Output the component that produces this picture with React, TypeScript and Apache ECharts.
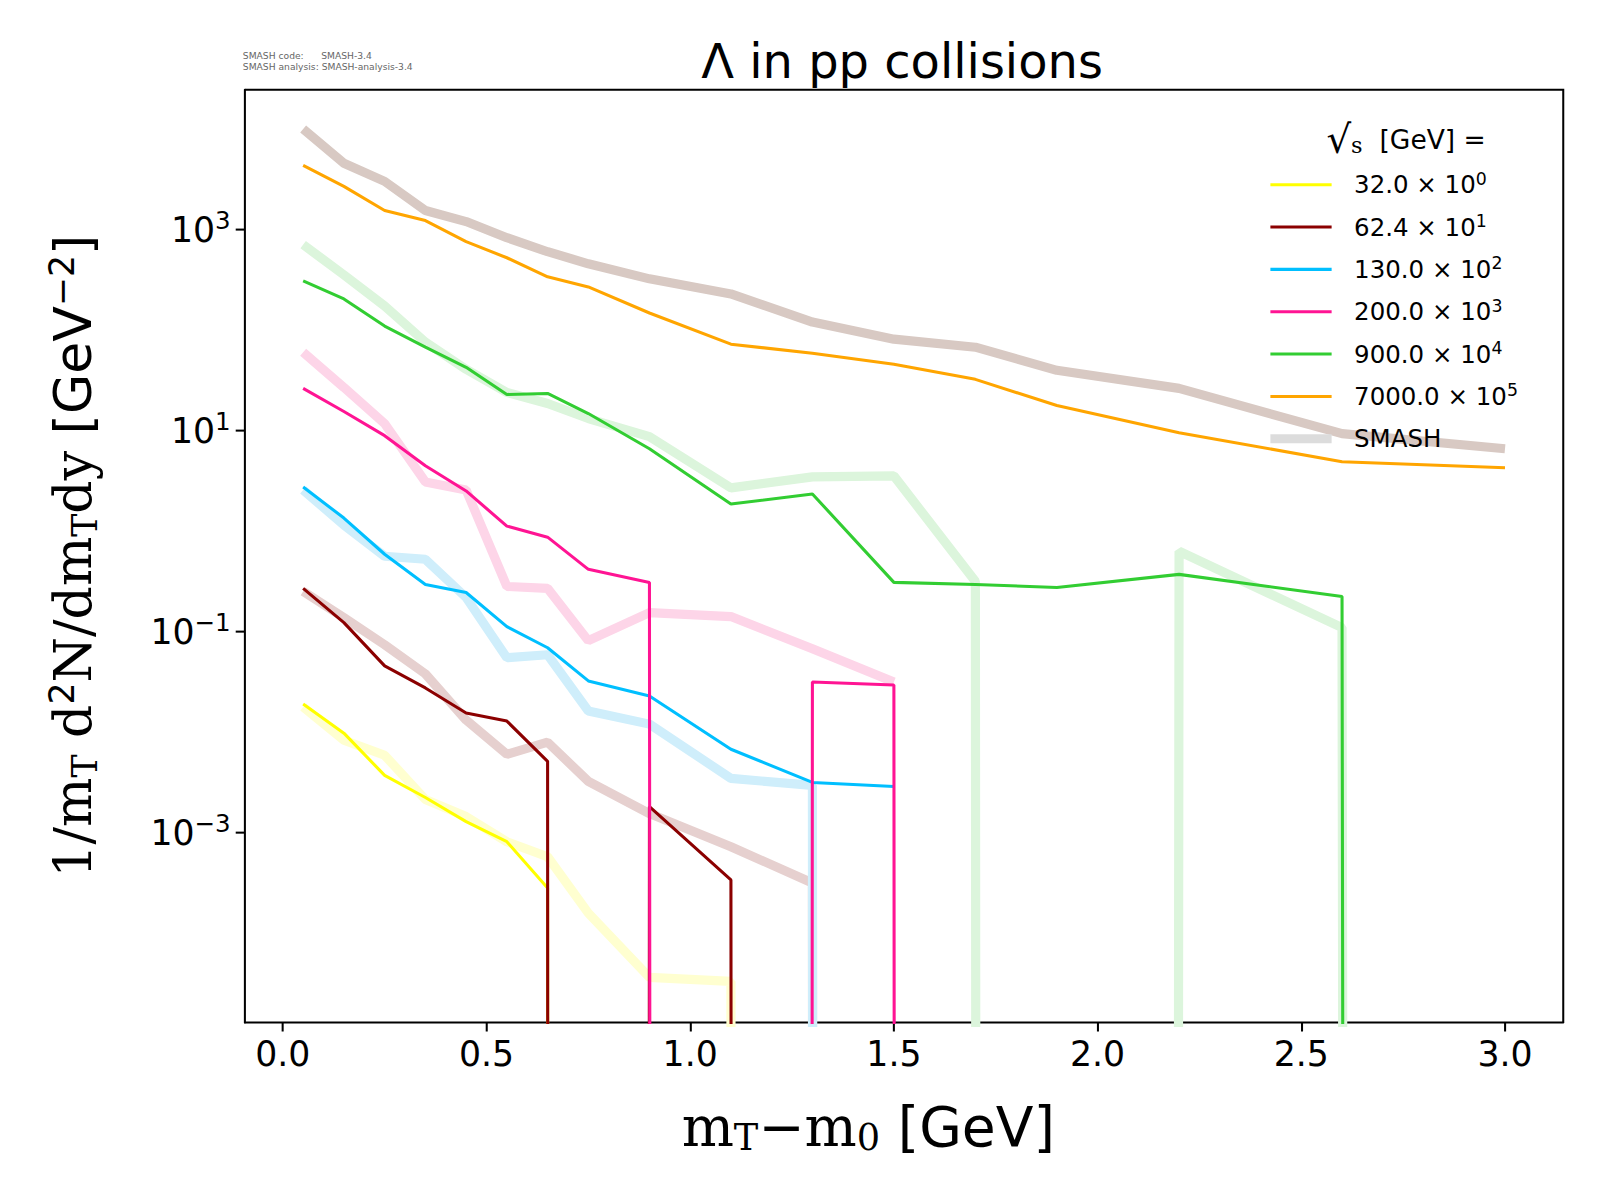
import React, { useEffect, useRef } from "react";
import * as echarts from "echarts";

const xs = [0.05, 0.15, 0.25, 0.35, 0.45, 0.55, 0.65, 0.75, 0.9, 1.1, 1.3, 1.5, 1.7, 1.9, 2.2, 2.6, 3.0];
const Z = -1000; // zero yield (log clipped)
// log10 of yields
const exp32 = [-1.72, -2.01, -2.43, -2.65, -2.89, -3.09, -3.55, Z];
const smash32 = [-1.75, -2.08, -2.23, -2.67, -2.84, -3.09, -3.24, -3.8, -4.44, -4.48, Z];
const exp62 = [-0.57, -0.91, -1.34, -1.56, -1.81, -1.89, -2.29, Z, -2.74, -3.47, Z];
const smash62 = [-0.6, -0.86, -1.13, -1.42, -1.88, -2.22, -2.1, -2.49, -2.81, -3.14, -3.5, Z];
const exp130 = [0.44, 0.13, -0.23, -0.53, -0.61, -0.95, -1.16, -1.49, -1.64, -2.17, -2.5, -2.54];
const smash130 = [0.41, 0.06, -0.25, -0.28, -0.66, -1.26, -1.23, -1.79, -1.92, -2.46, -2.53, Z];
const exp200 = [1.42, 1.19, 0.95, 0.65, 0.4, 0.05, -0.06, -0.38, -0.51, Z, -1.5, -1.53, Z];
const smash200 = [1.78, 1.43, 1.07, 0.49, 0.41, -0.55, -0.57, -1.09, -0.81, -0.85, -1.17, -1.5];
const exp900 = [2.49, 2.31, 2.04, 1.83, 1.63, 1.36, 1.37, 1.17, 0.82, 0.27, 0.37, -0.51, -0.53, -0.56, -0.43, -0.65, Z];
const smash900 = [2.85, 2.55, 2.24, 1.88, 1.61, 1.38, 1.27, 1.12, 0.94, 0.43, 0.54, 0.55, -0.5, Z, -0.2, -0.96, Z];
const exp7000 = [3.64, 3.43, 3.19, 3.09, 2.88, 2.72, 2.53, 2.43, 2.17, 1.86, 1.77, 1.66, 1.51, 1.25, 0.98, 0.69, 0.63];
const smash7000 = [4.0, 3.66, 3.48, 3.19, 3.08, 2.92, 2.78, 2.66, 2.51, 2.36, 2.08, 1.91, 1.83, 1.6, 1.42, 0.97, 0.82];

const legendValues = ["32.0", "62.4", "130.0", "200.0", "900.0", "7000.0", "SMASH"];
const legendExps = ["0", "1", "2", "3", "4", "5", ""];
const expColors = ["#ffff00", "#8b0000", "#00bfff", "#ff1493", "#32cd32", "#ffa500"];
const smashColors = ["#ffffd0", "#e6d0cf", "#cfeefb", "#fdd5e8", "#dcf5dc", "#d8c9c3"];
const legendColors = [...expColors, "#dcdcdc"];
const yTicks = [-3, -1, 1, 3];
const xTicks = [0, 0.5, 1, 1.5, 2, 2.5, 3];

const pairs = (v: number[]) => v.map((y, i) => [xs[i], y]);

export default function App() {
  const ref = useRef<HTMLDivElement>(null);
  useEffect(() => {
    document.documentElement.style.overflow = "hidden";
    const chart = echarts.init(ref.current!, null, { renderer: "svg" });
    const smash = [smash32, smash62, smash130, smash200, smash900, smash7000];
    const exp = [exp32, exp62, exp130, exp200, exp900, exp7000];
    const series: any[] = [];
    smash.forEach((d, i) =>
      series.push({ type: "line", data: pairs(d), symbol: "none", lineStyle: { color: smashColors[i], width: 9 }, z: 2 })
    );
    exp.forEach((d, i) =>
      series.push({ type: "line", data: pairs(d), symbol: "none", lineStyle: { color: expColors[i], width: 3 }, z: 3 })
    );
    const graphic: any[] = [
      { type: "text", left: 238, top: 49, style: { text: "SMASH code:      SMASH-3.4\nSMASH analysis: SMASH-analysis-3.4", fontSize: 9, fill: "#666", fontFamily: "DejaVu Sans", lineHeight: 11 } },
      { type: "text", x: 884, y: 60, style: { text: "Λ in pp collisions", fontSize: 47, fill: "#000", fontFamily: "DejaVu Sans", align: "center", verticalAlign: "middle" } },
      { type: "text", z: 11, x: 1378, y: 137, style: { text: "{r|√}{s|s}  [GeV] =", rich: { r: { fontSize: 38, fontFamily: "DejaVu Sans" }, s: { fontSize: 22, fontFamily: "DejaVu Serif", padding: [10, 0, 0, 0] } }, fontSize: 26, fill: "#000", fontFamily: "DejaVu Sans", align: "center", verticalAlign: "middle" } },
      {
        type: "text", x: 668, y: 1104,
        style: {
          text: "{m|m}{sub|T}{m|−m}{sub|0}{g| [GeV]}",
          rich: {
            m: { fontSize: 54, fontFamily: "DejaVu Serif" },
            sub: { fontSize: 36, fontFamily: "DejaVu Serif", padding: [22, 0, 0, 0] },
            g: { fontSize: 54, fontFamily: "DejaVu Sans" },
          },
          fill: "#000", verticalAlign: "middle",
        },
      },
      {
        type: "text", x: 72, y: 545, rotation: Math.PI / 2,
        style: {
          text: "{m|1/m}{sub|T}{m| d}{sup|2}{m|N/dm}{sub|T}{m|dy}{g| [GeV}{sup|−2}{g|]}",
          rich: {
            m: { fontSize: 51, fontFamily: "DejaVu Serif" },
            sub: { fontSize: 34, fontFamily: "DejaVu Serif", padding: [22, 0, 0, 0] },
            sup: { fontSize: 34, fontFamily: "DejaVu Sans", padding: [0, 0, 22, 0] },
            g: { fontSize: 51, fontFamily: "DejaVu Sans" },
          },
          fill: "#000", align: "center", verticalAlign: "middle",
        },
      },
    ];
    legendValues.forEach((t, i) => {
      const y = 181 + i * 41.5;
      graphic.push({ type: "line", z: 11, shape: { x1: 1245, y1: y, x2: 1305, y2: y }, style: { stroke: legendColors[i], lineWidth: i === 6 ? 9 : 3 } });
      const txt = legendExps[i] ? `{a|${t} × 10}{e|${legendExps[i]}}` : `{a|${t}}`;
      graphic.push({ type: "text", z: 11, x: 1327, y, style: { text: txt, rich: { a: { fontSize: 24, fontFamily: "DejaVu Sans", fill: "#000" }, e: { fontSize: 17, fontFamily: "DejaVu Sans", fill: "#000", padding: [0, 0, 12, 0] } }, verticalAlign: "middle" } });
    });
    graphic.push({ type: "polyline", shape: { points: [[240, 88], [1532, 88], [1532, 1002]] }, style: { stroke: "#000", lineWidth: 2, fill: "none" } });
    chart.setOption({
      animation: false,
      backgroundColor: "#fff",
      grid: { left: 240, top: 88, width: 1292, height: 914 },
      xAxis: {
        type: "value", min: -0.093, max: 3.143,
        axisLine: { show: true, onZero: false, lineStyle: { color: "#000", width: 2 } },
        axisTick: { show: true, customValues: xTicks, length: 9, lineStyle: { color: "#000", width: 2 } },
        axisLabel: { customValues: xTicks, formatter: (v: number) => v.toFixed(1), fontSize: 34, color: "#000", fontFamily: "DejaVu Sans", margin: 14 },
        splitLine: { show: false },
      },
      yAxis: {
        type: "value", min: -4.888, max: 4.391,
        axisLine: { show: true, onZero: false, lineStyle: { color: "#000", width: 2 } },
        axisTick: { show: true, customValues: yTicks, length: 9, lineStyle: { color: "#000", width: 2 } },
        axisLabel: {
          customValues: yTicks,
          formatter: (v: number) => `{b|10}{s|${v < 0 ? "−" : ""}${Math.abs(v)}}`,
          rich: { b: { fontSize: 34, fontFamily: "DejaVu Sans", color: "#000" }, s: { fontSize: 24, fontFamily: "DejaVu Sans", color: "#000", padding: [0, 0, 18, 0] } },
          margin: 14,
        },
        splitLine: { show: false },
      },
      series,
      graphic,
    });
    return () => chart.dispose();
  }, []);
  return (
    <div
      ref={ref}
      style={{ position: "absolute", left: 0, top: 0, width: 1600, height: 1200, transform: "scale(1.0204)", transformOrigin: "0 0" }}
    />
  );
}
